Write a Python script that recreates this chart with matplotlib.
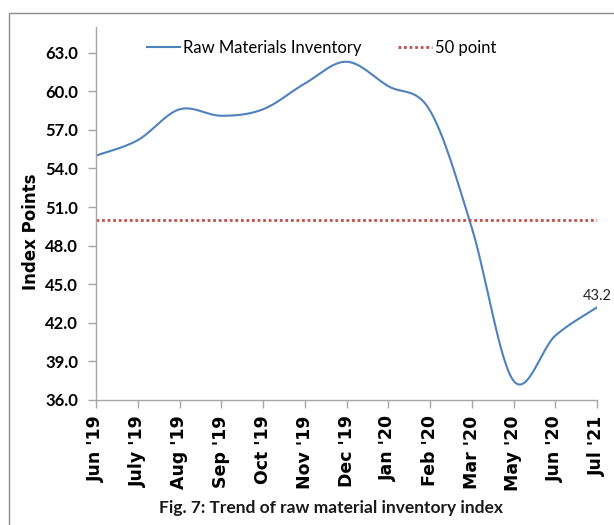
import numpy as np
import matplotlib.pyplot as plt
from matplotlib.patches import Rectangle

months = ["Jun '19", "July '19", "Aug '19", "Sep '19", "Oct '19", "Nov '19", "Dec '19",
          "Jan '20", "Feb '20", "Mar '20", "May '20", "Jun '20", "Jul '21"]
inventory = [55.0, 56.2, 58.6, 58.1, 58.6, 60.6, 62.3, 60.4, 58.5, 49.4, 37.5, 41.0, 43.2]
threshold = 50.0
yticks = [36.0, 39.0, 42.0, 45.0, 48.0, 51.0, 54.0, 57.0, 60.0, 63.0]

BLUE = "#4F81BD"
RED = "#C0504D"
GREY = "#A6A6A6"


def smooth_line(y: list[float], steps: int = 30) -> tuple[np.ndarray, np.ndarray]:
    # spreadsheet-style smoothed line: cubic Bezier with Catmull-Rom control points
    y = np.asarray(y, dtype=float)
    x = np.arange(len(y), dtype=float)
    xs, ys = [], []
    t = np.linspace(0, 1, steps)
    for i in range(len(y) - 1):
        y0 = y[i - 1] if i > 0 else y[i]
        y3 = y[i + 2] if i + 2 < len(y) else y[i + 1]
        x0 = x[i - 1] if i > 0 else x[i]
        x3 = x[i + 2] if i + 2 < len(y) else x[i + 1]
        p = [(x[i], y[i]),
             (x[i] + (x[i + 1] - x0) / 6, y[i] + (y[i + 1] - y0) / 6),
             (x[i + 1] - (x3 - x[i]) / 6, y[i + 1] - (y3 - y[i]) / 6),
             (x[i + 1], y[i + 1])]
        b = [(1 - t) ** 3, 3 * (1 - t) ** 2 * t, 3 * (1 - t) * t ** 2, t ** 3]
        xs.append(sum(bk * pk[0] for bk, pk in zip(b, p)))
        ys.append(sum(bk * pk[1] for bk, pk in zip(b, p)))
    return np.concatenate(xs), np.concatenate(ys)


fig = plt.figure(figsize=(6.14, 5.25), dpi=100)
ax = fig.add_axes([96 / 614, 125 / 525, 501 / 614, 373 / 525])

fig.patches.append(Rectangle((8.5 / 614, -0.1), 1.2, (525 - 12.5) / 525 + 0.1, transform=fig.transFigure,
                             fill=False, edgecolor="#8C8C8C", linewidth=1.0))

sx, sy = smooth_line(inventory)
ax.plot(sx, sy, color=BLUE, lw=1.5, label="Raw Materials Inventory")
ax.plot([0, len(months) - 1], [threshold, threshold], color=RED, lw=2.0, ls=(0, (1, 1)), label="50 point")

ax.annotate(f"{inventory[-1]:.1f}", xy=(len(months) - 1, inventory[-1]), xytext=(0, 3),
            textcoords="offset points", ha="center", va="bottom", fontsize=10.5,
            family="Lato", color="#262626", annotation_clip=False)

ax.set_xlim(0, len(months) - 1)
ax.set_ylim(36, 65)
ax.set_yticks(yticks)
ax.set_yticklabels([f"{v:.1f}" for v in yticks], fontsize=12, fontweight="bold", family="Lato")
ax.set_xticks(range(len(months)))
ax.set_xticklabels(months, rotation=90, fontsize=12.5, fontweight="bold", family="DejaVu Sans")

for side in ["top", "right"]:
    ax.spines[side].set_visible(False)
for side in ["left", "bottom"]:
    ax.spines[side].set_color(GREY)
    ax.spines[side].set_linewidth(1.0)
ax.tick_params(axis="both", direction="out", length=6, width=1.0, color=GREY, labelcolor="black")
ax.tick_params(axis="y", pad=7)
ax.tick_params(axis="x", pad=5)

ax.set_ylabel("Index Points", fontsize=12, fontweight="bold", family="DejaVu Sans")
ax.yaxis.set_label_coords(-0.112, 0.45)

ax.legend(loc="center", bbox_to_anchor=(0.45, 0.944), ncol=2, frameon=False, handlelength=2.0,
          columnspacing=2.2, handletextpad=0.2, prop={"family": "Lato", "size": 12})

fig.text(331 / 614, 1 - 508 / 525, "Fig. 7: Trend of raw material inventory index", ha="center", va="center",
         fontsize=12.5, fontweight="bold", family="Lato", color="#1a1a1a")

fig.savefig("out.png", dpi=100)
